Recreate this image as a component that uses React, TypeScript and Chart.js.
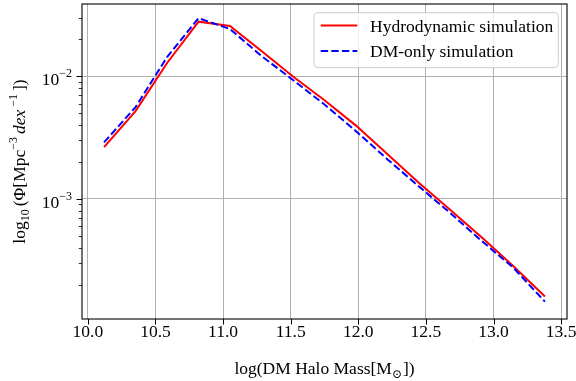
import { useEffect, useRef } from 'react';
import { Chart, registerables } from 'chart.js';

Chart.register(...registerables);

// ---- data ----
const massBins = [10.12, 10.353, 10.586, 10.819, 11.051, 11.284, 11.517, 11.75, 11.983, 12.216, 12.449, 12.681, 12.914, 13.147, 13.38];
const hydroPhi = [2.64e-3, 5.2e-3, 1.285e-2, 2.79e-2, 2.576e-2, 1.611e-2, 9.95e-3, 6.38e-3, 3.96e-3, 2.31e-3, 1.346e-3, 8.13e-4, 4.83e-4, 2.82e-4, 1.6e-4];
const dmOnlyPhi = [2.89e-3, 5.61e-3, 1.435e-2, 2.98e-2, 2.432e-2, 1.466e-2, 9.33e-3, 5.89e-3, 3.57e-3, 2.1e-3, 1.26e-3, 7.64e-4, 4.52e-4, 2.74e-4, 1.45e-4];
const seriesNames = ['Hydrodynamic simulation', 'DM-only simulation'];
const seriesColors = ['#ff0000', '#0000ff'];

const xTickValues = [10, 10.5, 11, 11.5, 12, 12.5, 13, 13.5];
const yMajorTicks = [1e-3, 1e-2];
const yMajorExponents = ['\u22123', '\u22122'];
const yMinorTicks = [2e-4, 3e-4, 4e-4, 5e-4, 6e-4, 7e-4, 8e-4, 9e-4, 2e-3, 3e-3, 4e-3, 5e-3, 6e-3, 7e-3, 8e-3, 9e-3, 2e-2, 3e-2];
const xRange = [9.957, 13.543];
const yRange = [1.047e-4, 0.0389];

const xTitle = [
  { t: 'log(DM Halo Mass[M', k: 'n' },
  { t: '\u2299', k: 'sub' },
  { t: '])', k: 'n' },
];
const yTitle = [
  { t: 'log', k: 'n' },
  { t: '10', k: 'sub' },
  { t: '(\u03A6[Mpc', k: 'n' },
  { t: '\u22123', k: 'sup' },
  { t: 'dex', k: 'it' },
  { t: '\u22121', k: 'sup' },
  { t: '])', k: 'n' },
];

const FAMILY = "'Liberation Serif', 'DejaVu Serif', serif";
const FS = 17.5;

type Seg = { t: string; k: string };

function segFont(s: Seg, size: number) {
  const small = Math.round(size * 0.7);
  if (s.k === 'sub' || s.k === 'sup') return `${small}px ${FAMILY}`;
  if (s.k === 'it') return `italic ${size}px ${FAMILY}`;
  return `${size}px ${FAMILY}`;
}

function drawRich(ctx: CanvasRenderingContext2D, segs: Seg[], x: number, y: number, align: string, size: number, extra = 1) {
  const widths = segs.map((s) => {
    ctx.font = segFont(s, size);
    return ctx.measureText(s.t).width + (s.k === 'sup' || s.k === 'sub' || s.k === 'it' ? extra : 0);
  });
  const total = widths.reduce((a, b) => a + b, 0);
  let cx = align === 'center' ? x - total / 2 : align === 'right' ? x - total : x;
  ctx.textAlign = 'left';
  ctx.textBaseline = 'alphabetic';
  segs.forEach((s, i) => {
    ctx.font = segFont(s, size);
    const dy = s.k === 'sub' ? size * 0.25 : s.k === 'sup' ? -size * 0.45 : 0;
    ctx.fillText(s.t, cx, y + dy);
    cx += widths[i];
  });
}

const decorPlugin = {
  id: 'decor',
  afterDraw(chart: any) {
    const ctx: CanvasRenderingContext2D = chart.ctx;
    const { left, right, top, bottom } = chart.chartArea;
    const xs = chart.scales.x;
    const ys = chart.scales.y;
    ctx.save();
    ctx.strokeStyle = '#000';
    ctx.fillStyle = '#000';
    // tick marks
    ctx.lineWidth = 1;
    xTickValues.forEach((v) => {
      const px = Math.round(xs.getPixelForValue(v)) + 0.5;
      ctx.beginPath();
      ctx.moveTo(px, bottom);
      ctx.lineTo(px, bottom + 5.5);
      ctx.stroke();
    });
    yMajorTicks.forEach((v) => {
      const py = Math.round(ys.getPixelForValue(v)) + 0.5;
      ctx.beginPath();
      ctx.moveTo(left - 5.5, py);
      ctx.lineTo(left, py);
      ctx.stroke();
    });
    ctx.lineWidth = 0.8;
    yMinorTicks.forEach((v) => {
      const py = Math.round(ys.getPixelForValue(v)) + 0.5;
      ctx.beginPath();
      ctx.moveTo(left - 3.3, py);
      ctx.lineTo(left, py);
      ctx.stroke();
    });
    // y tick labels
    yMajorTicks.forEach((v, i) => {
      const py = ys.getPixelForValue(v);
      drawRich(ctx, [{ t: '10', k: 'n' }, { t: yMajorExponents[i], k: 'sup' }], left - 9, py + 9, 'right', FS);
    });
    // axis titles
    drawRich(ctx, xTitle, (left + right) / 2, 374, 'center', FS);
    ctx.save();
    ctx.translate(25, (top + bottom) / 2);
    ctx.rotate(-Math.PI / 2);
    drawRich(ctx, yTitle, 0, 0, 'center', FS, 3);
    ctx.restore();
    // legend
    const lx = 314, ly = 12.7, lw = 244.3, lh = 55;
    ctx.beginPath();
    ctx.roundRect(lx, ly, lw, lh, 4);
    ctx.fillStyle = 'rgba(255,255,255,0.8)';
    ctx.fill();
    ctx.strokeStyle = '#cccccc';
    ctx.lineWidth = 1;
    ctx.stroke();
    chart.data.datasets.forEach((ds: any, i: number) => {
      const yy = ly + 12.8 + i * 25.5;
      ctx.beginPath();
      ctx.strokeStyle = ds.borderColor;
      ctx.lineWidth = ds.borderWidth;
      ctx.setLineDash(ds.borderDash || []);
      ctx.moveTo(lx + 6.7, yy);
      ctx.lineTo(lx + 43.3, yy);
      ctx.stroke();
      ctx.setLineDash([]);
      ctx.fillStyle = '#000';
      ctx.font = `${FS}px ${FAMILY}`;
      ctx.textAlign = 'left';
      ctx.textBaseline = 'alphabetic';
      ctx.fillText(ds.label, lx + 56, yy + 6.3);
    });
    // spines
    ctx.strokeStyle = '#000';
    ctx.lineWidth = 1.1;
    ctx.strokeRect(left, top, right - left, bottom - top);
    ctx.restore();
  },
};

export default function App() {
  const ref = useRef<HTMLCanvasElement | null>(null);
  useEffect(() => {
    if (!ref.current) return;
    const chart = new Chart(ref.current, {
      type: 'line',
      data: {
        datasets: [
          {
            label: seriesNames[0],
            data: massBins.map((x, i) => ({ x, y: hydroPhi[i] })),
            borderColor: seriesColors[0],
            borderWidth: 2,
            pointRadius: 0,
            fill: false,
            tension: 0,
            order: 1,
          },
          {
            label: seriesNames[1],
            data: massBins.map((x, i) => ({ x, y: dmOnlyPhi[i] })),
            borderColor: seriesColors[1],
            borderWidth: 2,
            borderDash: [7.4, 3.2],
            pointRadius: 0,
            fill: false,
            tension: 0,
            order: 0,
          },
        ],
      },
      options: {
        animation: false,
        responsive: false,
        events: [],
        layout: { padding: { top: 4, right: 9, left: 0, bottom: 0 } },
        plugins: { legend: { display: false }, tooltip: { enabled: false } },
        scales: {
          x: {
            type: 'linear',
            min: xRange[0],
            max: xRange[1],
            afterBuildTicks: (scale: any) => {
              scale.ticks = xTickValues.map((v) => ({ value: v }));
            },
            afterFit: (scale: any) => {
              scale.height = 62;
              scale.paddingLeft = 0;
              scale.paddingRight = 0;
            },
            ticks: {
              autoSkip: false,
              maxRotation: 0,
              padding: 3,
              color: '#000',
              font: { family: FAMILY, size: FS },
              callback: (v: any) => Number(v).toFixed(1),
            },
            grid: { color: '#b0b0b0', lineWidth: 1, drawTicks: false },
            border: { display: false },
          },
          y: {
            type: 'logarithmic',
            min: yRange[0],
            max: yRange[1],
            afterBuildTicks: (scale: any) => {
              scale.ticks = [...yMinorTicks, ...yMajorTicks].sort((a, b) => a - b).map((v) => ({ value: v }));
            },
            afterFit: (scale: any) => {
              scale.width = 82;
            },
            ticks: { display: false },
            grid: {
              color: (c: any) => (yMajorTicks.includes(c.tick && c.tick.value) ? '#b0b0b0' : 'rgba(0,0,0,0)'),
              lineWidth: 1,
              drawTicks: false,
            },
            border: { display: false },
          },
        },
      },
      plugins: [decorPlugin],
    } as any);
    return () => chart.destroy();
  }, []);
  return (
    <div style={{ position: 'fixed', left: 0, top: 0, width: 576, height: 381, background: '#fff' }}>
      <canvas ref={ref} width={576} height={381} style={{ display: 'block' }} />
    </div>
  );
}
